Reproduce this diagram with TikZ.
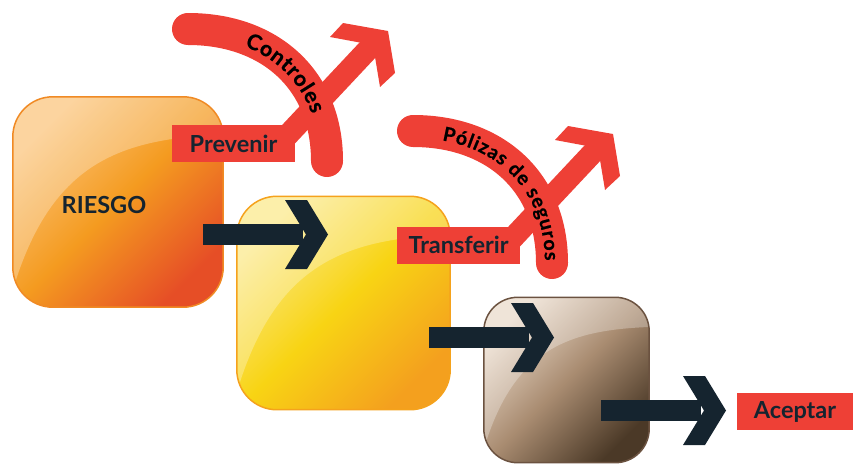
\documentclass[tikz,border=0pt]{standalone}
\usepackage{fontspec}
\setmainfont{Lato}
\newfontfamily\bandfam{Lato}[BoldFeatures={FakeBold=0.7}]
\usetikzlibrary{decorations.text}
\definecolor{rojo}{HTML}{EE4036}
\definecolor{navy}{HTML}{15242F}
\definecolor{orT}{HTML}{FBC47A}\definecolor{orM}{HTML}{F49B20}\definecolor{orB}{HTML}{E64E26}\definecolor{orE}{HTML}{F08A24}
\definecolor{yeT}{HTML}{FBE98A}\definecolor{yeM}{HTML}{F8D414}\definecolor{yeB}{HTML}{F4A01E}\definecolor{yeE}{HTML}{F5A21C}
\definecolor{brT}{HTML}{EADACA}\definecolor{brM}{HTML}{A98C71}\definecolor{brB}{HTML}{4B3927}\definecolor{brE}{HTML}{6B5240}
\newcommand\glossbox[8]{%
 \node[minimum size=#3, inner sep=0pt, rounded corners=#4, top color=#5, bottom color=#7, middle color=#6, shading angle=45] (#1) at #2 {};
 \begin{scope}
  \clip[rounded corners=#4] (#1.north west) rectangle (#1.south east);
  \begin{scope}[shift={(#1.north west)}, x=#3pt, y=-#3pt]
   \fill[white, opacity=.28] (0,0.92) .. controls (0.18,0.32) and (0.5,0.2) .. (1,0.18) -- (1,0) -- (0,0) -- cycle;
  \end{scope}
 \end{scope}
 \draw[#8, line width=1.5pt, rounded corners=#4] (#1.north west) rectangle (#1.south east);
}
\newcommand\ks[1]{{\kern0.7pt#1\kern0.7pt}}
\begin{document}
\begin{tikzpicture}[x=1pt,y=-1pt,
  lab/.style={fill=rojo, text=navy, font=\fontsize{23.5}{24}\selectfont\bfseries, minimum width=123pt, minimum height=37pt, inner sep=0pt},
  band/.style={draw=rojo, line width=32pt, line cap=round},
  darkarrow/.pic={
    \fill[navy] (0,-10.5) rectangle (100,10.5);
    \fill[navy] (82,-34.5) -- (104,-34.5) -- (125,0) -- (104,34.5) -- (82,34.5) -- (103,0) -- cycle;
  },
  redarrow/.pic={
    \draw[rojo, line width=22pt] (0,0) -- (91,-97);
    \fill[rojo] (45,-101) -- (58,-115) -- (103,-107) -- (110,-65) -- (95,-51) -- (88,-93) -- cycle;
  }]
\useasboundingbox (0,0) rectangle (853,466);
% boxes
\glossbox{riesgo}{(118,202)}{210}{40}{orT}{orM}{orB}{orE}
\glossbox{transf}{(343.5,303)}{213}{40}{yeT}{yeM}{yeB}{yeE}
\glossbox{acep}{(566.5,380)}{165}{34}{brT}{brM}{brB}{brE}
\node[text=navy, font=\fontsize{23.5}{24}\selectfont\bfseries] (riesgotxt) at (104,205) {RIESGO};
% red curved bands
\draw[band] (188,29) .. controls (270,29) and (327,80) .. (327,161);
\draw[band] (413,131) .. controls (495,131) and (552,182) .. (552,263);
% red straight arrows
\coordinate (r1) at (285,138);
\coordinate (r2) at (510,241);
\pic at (r1) {redarrow};
\pic at (r2) {redarrow};
% dark arrows
\coordinate (d1) at (203,234.5);
\coordinate (d2) at (429,337.5);
\coordinate (d3) at (601,410.5);
\pic at (d1) {darkarrow};
\pic at (d2) {darkarrow};
\pic at (d3) {darkarrow};
% labels
\node[lab] (prevenir) at (233.5,143.5) {Prevenir};
\node[lab] (transferir) at (458.5,245) {Transferir};
\node[lab, minimum width=116pt] (aceptar) at (795,411.5) {Aceptar};
% band texts
\path[decorate, decoration={text along path, text={|\color{black}\bandfam\bfseries\fontsize{21.5}{22}\selectfont|{\ks{C}}{\ks{o}}{\ks{n}}{\ks{t}}{\ks{r}}{\ks{o}}{\ks{l}}{\ks{e}}{\ks{s}}}, text align={left, left indent=60pt}, raise=-7.5pt}] (188,29) .. controls (270,29) and (327,80) .. (327,161);
\path[decorate, decoration={text along path, text={|\color{black}\bandfam\bfseries\fontsize{19.5}{20}\selectfont|{\ks{P}}{\ks{ó}}{\ks{l}}{\ks{i}}{\ks{z}}{\ks{a}}{\ks{s}}{\ks{~}}{\ks{d}}{\ks{e}}{\ks{~}}{\ks{s}}{\ks{e}}{\ks{g}}{\ks{u}}{\ks{r}}{\ks{o}}{\ks{s}}}, text align={right, right indent=2pt}, raise=-7pt}] (413,131) .. controls (495,131) and (552,182) .. (552,263);
\end{tikzpicture}
\end{document}
